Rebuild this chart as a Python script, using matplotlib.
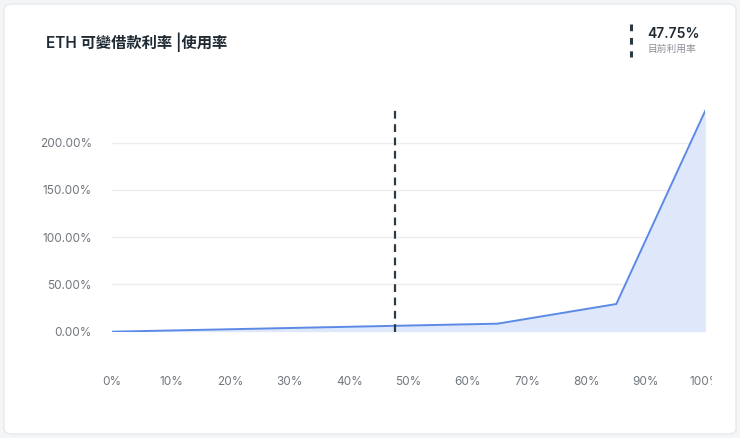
import matplotlib
matplotlib.use("Agg")
import matplotlib.pyplot as plt
from matplotlib.patches import FancyBboxPatch
from matplotlib.transforms import Bbox, TransformedBbox
from matplotlib.lines import Line2D

plt.rcParams['font.family'] = ['Inter', 'Noto Sans CJK TC', 'DejaVu Sans']

# Data
utilization = [0, 65, 85, 100]          # %
borrow_rate = [0.0, 8.5, 29.3, 234.0]   # %
current_util = 47.75
x_ticks = [0, 10, 20, 30, 40, 50, 60, 70, 80, 90, 100]
x_tick_labels = [f"{v}%" for v in x_ticks]
y_ticks = [0, 50, 100, 150, 200]
y_tick_labels = [f"{v:.2f}%" for v in y_ticks]
title = "ETH 可變借款利率 |使用率"
current_label = "目前利用率"

W, H = 740, 438
fig = plt.figure(figsize=(W / 100, H / 100), dpi=100)
fig.patch.set_facecolor('#f4f5f7')

card = FancyBboxPatch((4 / W, 4 / H), (W - 8) / W, (H - 8) / H,
                      boxstyle="round,pad=0,rounding_size=0.012",
                      transform=fig.transFigure, facecolor='white',
                      edgecolor='#e8e9ec', linewidth=1, zorder=-5)
fig.patches.append(card)

left, right = 112 / W, 705.3 / W
bottom = 1 - 331.7 / H
top = 1 - 106 / H
ax = fig.add_axes([left, bottom, right - left, top - bottom])
ax.set_facecolor('none')
ax.set_xlim(0, 100)
ax.set_ylim(0, 238.9)

for v in y_ticks:
    ax.axhline(v, color='#ececef', lw=1, zorder=1)

line_color = '#5b8ae6'
ax.fill_between(utilization, borrow_rate, 0, color='#dce5fa', alpha=0.9, lw=0, zorder=2)
ax.plot(utilization, borrow_rate, color=line_color, lw=1.4, zorder=3)
ax.axvline(current_util, color='#2c3a44', lw=1.6, ls=(0, (3.5, 2.5)), zorder=4)

ax.set_xticks(x_ticks)
ax.set_xticklabels(x_tick_labels)
ax.set_yticks(y_ticks)
ax.set_yticklabels(y_tick_labels)
ax.tick_params(axis='x', length=0, pad=32, labelsize=8.5, labelcolor='#72777f')
ax.tick_params(axis='y', length=0, pad=14.5, labelsize=8.5, labelcolor='#72777f')
for s in ax.spines.values():
    s.set_visible(False)

# clip the last x label like the reference
cb = TransformedBbox(Bbox.from_extents(0, 0, 712 / W, 1), fig.transFigure)
for lbl in ax.get_xticklabels():
    lbl.set_clip_box(cb)
    lbl.set_clip_on(True)

fig.text(46 / W, 1 - 42 / H, title, fontsize=11, fontweight='semibold',
         color='#1f2a33', va='center', ha='left',
         family=['Inter', 'Noto Sans CJK TC'])

fig.add_artist(Line2D([631 / W, 631 / W], [1 - 24 / H, 1 - 57 / H],
                      transform=fig.transFigure, color='#2c3a44', lw=2.2,
                      ls=(0, (2.2, 2.2))))
fig.text(647 / W, 1 - 34 / H, f"{current_util:.2f}%", fontsize=10,
         fontweight='semibold', color='#1f2a33', va='center', ha='left')
fig.text(647 / W, 1 - 49 / H, current_label, fontsize=7, color='#8a8f96',
         va='center', ha='left', family=['Noto Sans CJK TC', 'DejaVu Sans'])

fig.savefig("out.png", dpi=100, facecolor=fig.get_facecolor())
